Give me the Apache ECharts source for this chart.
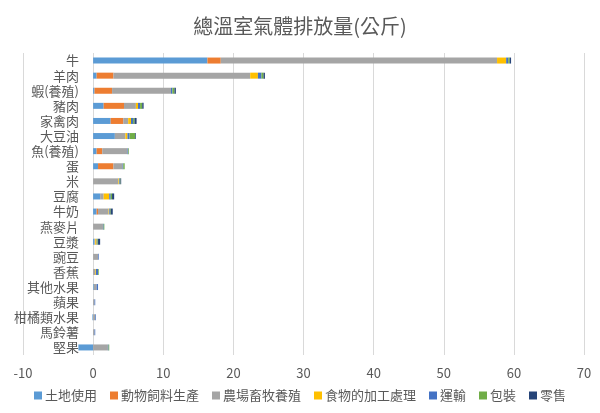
<!DOCTYPE html>
<html><head><meta charset="utf-8">
<script src="https://cdn.jsdelivr.net/npm/echarts@6/dist/echarts.min.js"></script>
<style>html,body{margin:0;padding:0;background:#fff}#c{width:600px;height:413px}</style>
</head><body><div id="c"></div>
<script>
const categories = ['牛','羊肉','蝦(養殖)','豬肉','家禽肉','大豆油','魚(養殖)','蛋','米','豆腐','牛奶','燕麥片','豆漿','豌豆','香蕉','其他水果','蘋果','柑橘類水果','馬鈴薯','堅果'];
const seriesNames = ['土地使用','動物飼料生產','農場畜牧養殖','食物的加工處理','運輸','包裝','零售'];
const landUse    = [16.3, 0.5, 0.2, 1.5, 2.5, 3.1, 0.5, 0.7, 0,   1.0, 0.5, 0,   0.2, 0,   0,   0.1, 0,   -0.1, 0,   -2.1];
const animalFeed = [1.9,  2.4, 2.5, 2.9, 1.8, 0,   0.8, 2.2, 0,   0,   0.2, 0,   0,   0,   0,   0,   0,   0,    0,   0];
const farm       = [39.4, 19.5,8.4, 1.7, 0.7, 1.5, 3.6, 1.3, 3.6, 0.5, 1.5, 1.4, 0.1, 0.7, 0.3, 0.4, 0.2, 0.3,  0.2, 2.1];
const processing = [1.3,  1.1, 0,   0.3, 0.4, 0.3, 0,   0,   0.1, 0.8, 0.1, 0,   0.2, 0,   0.1, 0,   0,   0,    0,   0];
const transport  = [0.3,  0.5, 0.2, 0.3, 0.3, 0.3, 0.1, 0.1, 0.1, 0.2, 0.1, 0.1, 0.1, 0.1, 0.3, 0.2, 0.1, 0.1,  0.1, 0.1];
const packaging  = [0.2,  0.3, 0.3, 0.3, 0.2, 0.8, 0.1, 0.2, 0.1, 0.2, 0.1, 0.1, 0.1, 0,   0.1, 0,   0,   0,    0,   0.1];
const retail     = [0.2,  0.2, 0.2, 0.2, 0.3, 0.1, 0,   0,   0.1, 0.3, 0.3, 0,   0.3, 0,   0,   0,   0,   0,    0,   0];
const allData = [landUse, animalFeed, farm, processing, transport, packaging, retail];
const colors = ['#5B9BD5','#ED7D31','#A5A5A5','#FFC000','#4472C4','#70AD47','#264478'];
const xTicks = {min: -10, max: 70, interval: 10};

const chart = echarts.init(document.getElementById('c'), null, {renderer:'canvas'});
const font = '"Noto Sans CJK TC","Noto Sans",sans-serif';
chart.setOption({
  animation: false,
  color: colors,
  title: {text: '總溫室氣體排放量(公斤)', left: 'center', top: 11,
    textStyle: {fontSize: 20, fontWeight: 'normal', color: '#595959', fontFamily: font}},
  grid: {left: 23, right: 16, top: 53, bottom: 58, containLabel: false, outerBoundsMode: 'none'},
  legend: {bottom: 6, left: 'center', itemWidth: 8, itemHeight: 8, itemGap: 13, icon: 'rect',
    textStyle: {fontSize: 13, color: '#595959', fontFamily: font, padding: [0,0,0,-2]},
    data: seriesNames},
  xAxis: {type: 'value', min: xTicks.min, max: xTicks.max, interval: xTicks.interval,
    axisLine: {show: false}, axisTick: {show: false},
    splitLine: {lineStyle: {color: '#D9D9D9'}},
    axisLabel: {fontSize: 13, color: '#595959', margin: 12, fontFamily: font}},
  yAxis: {type: 'category', data: categories, inverse: true, position: 'left', offset: -70,
    axisLine: {show: false, onZero: false},
    axisTick: {show: false},
    axisLabel: {interval: 0, fontSize: 13, color: '#595959', margin: 14, fontFamily: font}},
  series: seriesNames.map((n, i) => ({
    name: n, type: 'bar', stack: 'total', data: allData[i], barWidth: 6
  }))
});
</script></body></html>
